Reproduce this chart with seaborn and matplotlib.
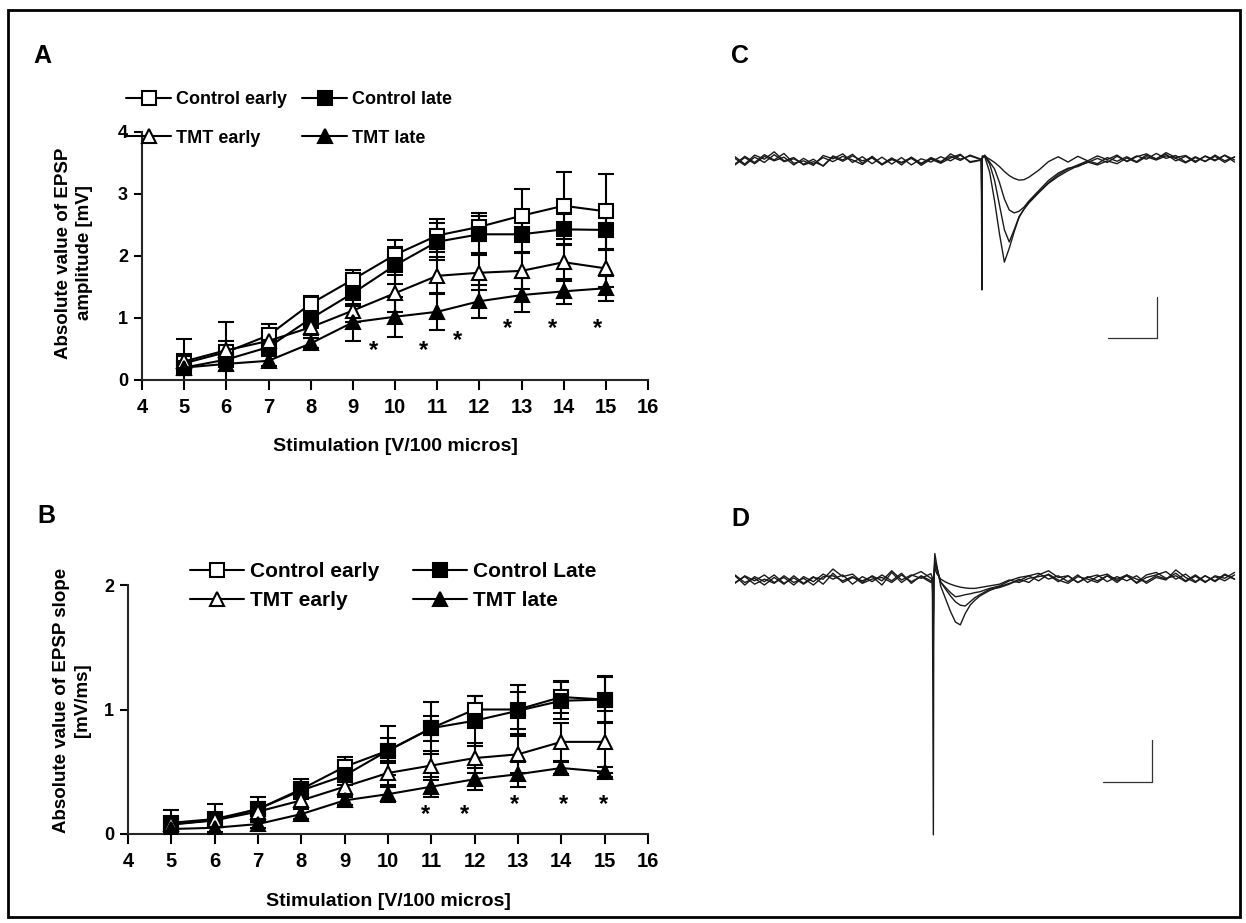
"""EPSP amplitude / slope input-output curves with example field potential traces."""

import matplotlib

matplotlib.use("Agg")

import matplotlib.pyplot as plt
import pandas as pd
import seaborn as sns
from matplotlib.lines import Line2D
from matplotlib.patches import Rectangle

# ---------------------------------------------------------------- data
stimulation = [5, 6, 7, 8, 9, 10, 11, 12, 13, 14, 15]

amp_ctrl_early = [0.27, 0.45, 0.72, 1.23, 1.62, 2.02, 2.33, 2.47, 2.65, 2.81, 2.72]
amp_ctrl_early_err = [0.39, 0.48, 0.18, 0.13, 0.16, 0.24, 0.27, 0.23, 0.43, 0.54, 0.61]
amp_ctrl_late = [0.20, 0.33, 0.53, 0.99, 1.40, 1.85, 2.23, 2.35, 2.35, 2.43, 2.42]
amp_ctrl_late_err = [0.12, 0.12, 0.12, 0.15, 0.20, 0.30, 0.30, 0.30, 0.30, 0.25, 0.32]
amp_tmt_early = [0.30, 0.48, 0.63, 0.85, 1.12, 1.40, 1.68, 1.73, 1.76, 1.90, 1.80]
amp_tmt_early_err = [0.12, 0.15, 0.12, 0.12, 0.18, 0.30, 0.30, 0.28, 0.30, 0.30, 0.30]
amp_tmt_late = [0.20, 0.26, 0.31, 0.59, 0.93, 1.02, 1.10, 1.27, 1.37, 1.43, 1.48]
amp_tmt_late_err = [0.08, 0.12, 0.08, 0.08, 0.30, 0.32, 0.30, 0.27, 0.27, 0.20, 0.20]

slope_ctrl_early = [0.09, 0.12, 0.20, 0.36, 0.54, 0.67, 0.85, 1.00, 1.00, 1.10, 1.08]
slope_ctrl_early_err = [0.10, 0.12, 0.10, 0.08, 0.08, 0.20, 0.21, 0.11, 0.20, 0.13, 0.19]
slope_ctrl_late = [0.075, 0.11, 0.20, 0.35, 0.47, 0.67, 0.85, 0.91, 0.99, 1.07, 1.08]
slope_ctrl_late_err = [0.05, 0.05, 0.05, 0.06, 0.08, 0.10, 0.10, 0.20, 0.15, 0.15, 0.18]
slope_tmt_early = [0.08, 0.11, 0.18, 0.27, 0.38, 0.49, 0.55, 0.61, 0.64, 0.74, 0.74]
slope_tmt_early_err = [0.05, 0.05, 0.06, 0.06, 0.08, 0.10, 0.12, 0.12, 0.15, 0.15, 0.25]
slope_tmt_late = [0.04, 0.05, 0.08, 0.16, 0.27, 0.32, 0.38, 0.44, 0.48, 0.53, 0.50]
slope_tmt_late_err = [0.03, 0.03, 0.03, 0.04, 0.04, 0.06, 0.08, 0.09, 0.10, 0.05, 0.04]

# significance markers (x, y in data units)
amp_star_x = [9.48, 10.67, 11.48, 12.67, 13.74, 14.81]
amp_star_y = [0.48, 0.48, 0.64, 0.83, 0.83, 0.83]
slope_star_x = [10.86, 11.77, 12.93, 14.06, 14.97]
slope_star_y = [0.16, 0.16, 0.24, 0.24, 0.24]

# example traces, time in ms, voltage in mV
trace_c_time = (
    [0, 2, 4, 6, 8, 10, 12, 14, 16, 18, 20, 22, 24, 26, 28, 30, 32, 34, 36, 38, 40, 42, 44, 46, 48]
    + [50, 50.3, 50.4, 50.5, 51, 52, 53, 54, 55, 56, 57, 58, 59, 60]
    + [62, 64, 66, 68, 70, 72, 74, 76, 78, 80, 82, 84, 86, 88, 90, 92, 94, 96, 98, 100, 102]
)
trace_c1 = (
    [0.08, -0.10, 0.12, 0.02, 0.20, -0.02, 0.06, -0.12, -0.04, -0.14, 0.10, 0.00, 0.14,
     -0.08, 0.09, -0.10, 0.05, -0.12, 0.07, -0.08, 0.04, -0.06, 0.15, 0.02, 0.10]
    + [0.02, 0.03, -3.17, 0.10, 0.08, -0.30, -1.00, -1.80, -2.49, -2.15, -1.75, -1.40, -1.20, -1.05]
    + [-0.80, -0.57, -0.40, -0.26, -0.14, -0.06, 0.04, -0.06, 0.09, -0.03, 0.10, 0.02, 0.16,
       0.04, 0.11, -0.05, 0.08, -0.04, 0.12, -0.02, 0.07]
)
trace_c2 = (
    [-0.10, 0.09, -0.06, 0.13, 0.00, 0.16, -0.08, -0.02, -0.13, 0.11, 0.03, 0.15, -0.06,
     0.08, -0.09, 0.07, -0.10, 0.06, -0.12, 0.03, -0.05, 0.08, -0.02, 0.12, -0.04]
    + [0.00, 0.01, -1.45, 0.08, 0.10, -0.10, -0.50, -1.10, -1.70, -2.00, -1.70, -1.38, -1.20, -1.02]
    + [-0.78, -0.55, -0.36, -0.22, -0.12, -0.02, -0.09, 0.06, -0.03, 0.08, -0.04, 0.12, 0.03,
       0.14, -0.02, 0.09, -0.06, 0.10, 0.00, 0.11, -0.05]
)
trace_c3 = (
    [0.04, -0.13, 0.07, -0.06, 0.13, -0.04, 0.03, -0.10, 0.02, -0.15, 0.08, -0.03, 0.10,
     -0.02, 0.05, -0.11, 0.01, -0.07, 0.04, -0.10, 0.06, -0.04, 0.09, -0.01, 0.12]
    + [0.03, 0.02, -1.20, 0.06, 0.12, -0.05, -0.22, -0.55, -0.95, -1.22, -1.29, -1.25, -1.15, -1.00]
    + [-0.75, -0.50, -0.32, -0.20, -0.16, -0.05, -0.12, -0.02, -0.09, 0.05, -0.06, 0.08, 0.00,
       0.10, 0.04, -0.07, 0.06, -0.03, 0.09, -0.06, 0.08]
)
trace_c4 = (
    [-0.12, 0.06, -0.09, 0.09, -0.02, 0.07, -0.12, 0.04, -0.10, 0.06, -0.04, 0.09, 0.00,
     -0.11, 0.07, -0.12, 0.04, -0.06, 0.06, -0.13, 0.02, -0.08, 0.05, 0.14, -0.06]
    + [-0.01, 0.00, -1.00, 0.05, 0.09, 0.02, -0.06, -0.16, -0.28, -0.38, -0.45, -0.49, -0.48, -0.42]
    + [-0.25, -0.04, 0.08, -0.05, 0.09, -0.02, 0.10, 0.01, 0.12, -0.04, 0.08, 0.15, 0.02,
       0.18, 0.06, 0.11, -0.03, 0.09, -0.02, 0.12, 0.00]
)

trace_d_time = (
    [0, 2, 4, 6, 8, 10, 12, 14, 16, 18, 20, 22, 24, 26, 28, 30, 32, 34, 36, 38, 40]
    + [40.3, 40.5, 40.6, 40.8, 41.2, 42, 43, 44, 45, 46, 47, 48, 49, 50, 52]
    + [54, 56, 58, 60, 62, 64, 66, 68, 70, 72, 74, 76, 78, 80, 82, 84, 86, 88, 90, 92, 94,
       96, 98, 100, 102]
)
trace_d1 = (
    [0.10, -0.12, 0.08, -0.04, 0.12, -0.08, 0.05, -0.10, 0.06, 0.02, 0.26, 0.08, 0.14,
     -0.06, 0.10, -0.02, 0.22, 0.00, 0.12, 0.04, 0.15]
    + [0.05, -6.07, 0.10, 0.63, 0.35, -0.15, -0.45, -0.75, -1.00, -1.07, -0.80, -0.60, -0.48, -0.38, -0.25]
    + [-0.16, -0.08, -0.02, 0.10, 0.16, 0.02, 0.10, -0.04, 0.12, -0.06, 0.08, 0.14, -0.02,
       0.10, -0.06, 0.12, 0.18, 0.04, 0.10, -0.04, 0.09, -0.06, 0.10, 0.04, 0.18]
)
trace_d2 = (
    [-0.08, 0.10, -0.02, 0.12, -0.06, 0.06, -0.12, 0.08, -0.04, 0.14, 0.02, 0.12, -0.10,
     0.08, -0.04, 0.12, -0.02, 0.16, -0.08, 0.10, -0.02]
    + [0.02, -1.50, 0.05, 0.45, 0.30, -0.05, -0.22, -0.38, -0.52, -0.60, -0.62, -0.52, -0.42, -0.35, -0.22]
    + [-0.18, -0.10, 0.02, -0.06, 0.12, 0.22, 0.06, 0.10, -0.06, 0.08, -0.02, 0.10, 0.02,
       0.12, -0.08, 0.06, 0.12, 0.20, 0.02, 0.14, -0.04, 0.10, -0.04, 0.12, 0.02]
)
trace_d3 = (
    [0.12, -0.06, 0.04, -0.12, 0.06, -0.10, 0.10, -0.08, 0.08, -0.10, 0.16, -0.06, 0.06,
     -0.02, 0.08, -0.12, 0.18, -0.06, 0.10, 0.20, 0.04]
    + [0.04, -1.00, 0.03, 0.40, 0.25, -0.05, -0.18, -0.30, -0.40, -0.38, -0.35, -0.33, -0.30, -0.28, -0.20]
    + [-0.14, -0.02, 0.06, 0.10, -0.02, 0.14, 0.00, -0.08, 0.08, 0.02, -0.06, 0.10, -0.06,
       0.12, 0.02, -0.04, 0.10, 0.02, 0.16, -0.02, 0.12, -0.04, 0.08, -0.02, 0.12]
)
trace_d4 = (
    [-0.06, 0.08, -0.10, 0.02, -0.08, 0.10, -0.06, 0.04, -0.12, 0.08, 0.10, -0.02, 0.08,
     -0.08, 0.02, 0.06, -0.06, 0.12, -0.04, 0.08, -0.06]
    + [0.01, -0.80, 0.02, 0.30, 0.15, 0.02, -0.05, -0.10, -0.14, -0.17, -0.19, -0.20, -0.20, -0.18, -0.14]
    + [-0.10, 0.00, -0.06, 0.04, 0.08, 0.12, -0.04, 0.10, -0.06, 0.06, 0.12, -0.04, 0.08,
       -0.02, 0.10, -0.08, 0.06, 0.00, 0.24, 0.06, -0.06, 0.10, -0.02, 0.14, 0.02]
)

# scale bars: 10 ms x 1 mV
scalebar_ms = 10
scalebar_mv = 1

groups = ["Control early", "Control late", "TMT early", "TMT late"]
group_markers = {"Control early": "s", "Control late": "s", "TMT early": "^", "TMT late": "^"}
group_faces = {"Control early": "white", "Control late": "black", "TMT early": "white", "TMT late": "black"}

# ---------------------------------------------------------------- style
sns.set_theme(style="ticks")
plt.rcParams.update(
    {
        "font.family": ["Liberation Sans", "DejaVu Sans"],
        "font.weight": "bold",
        "axes.labelweight": "bold",
        "axes.linewidth": 1.5,
        "text.color": "black",
        "axes.labelcolor": "black",
        "xtick.color": "black",
        "ytick.color": "black",
    }
)

W, H = 1246, 923


def fig_box(left, top, right, bottom):
    """Pixel box (from top-left) to figure fraction rect."""
    return [left / W, 1 - bottom / H, (right - left) / W, (bottom - top) / H]


def long_frame(series, errors):
    rows = []
    for name, means, errs in zip(groups, series, errors):
        for x, m, e in zip(stimulation, means, errs):
            rows.append({"stim": x, "group": name, "value": m - e})
            rows.append({"stim": x, "group": name, "value": m + e})
    return pd.DataFrame(rows)


def draw_curves(ax, frame):
    for i, name in enumerate(groups):
        sns.lineplot(
            data=frame[frame["group"] == name],
            x="stim",
            y="value",
            errorbar=lambda v: (v.min(), v.max()),
            err_style="bars",
            err_kws={"capsize": 5.5, "capthick": 1.5, "elinewidth": 1.5, "zorder": 2},
            color="black",
            linewidth=1.5,
            marker=group_markers[name],
            markersize=10,
            markerfacecolor=group_faces[name],
            markeredgecolor="black",
            markeredgewidth=1.5,
            zorder=4 + i,
            ax=ax,
        )
    ax.set_xlim(4, 16)
    ax.set_xticks(range(4, 17))
    ax.set_xlabel("")
    ax.set_ylabel("")
    sns.despine(ax=ax)
    ax.tick_params(axis="x", direction="out", length=7, width=1.5, labelsize=14.5, pad=6)
    ax.tick_params(axis="y", direction="out", length=6, width=1.5, labelsize=13, pad=4)
    for lab in ax.get_xticklabels() + ax.get_yticklabels():
        lab.set_fontweight("bold")


def legend_handles():
    return [
        Line2D([], [], color="black", lw=1.5, marker=group_markers[g], markersize=10,
               markerfacecolor=group_faces[g], markeredgecolor="black", markeredgewidth=1.5)
        for g in groups
    ]


fig = plt.figure(figsize=(W / 100, H / 100), dpi=100)

# ---------------------------------------------------------------- panel A
ax_a = fig.add_axes(fig_box(142, 132, 648, 380))
draw_curves(
    ax_a,
    long_frame(
        [amp_ctrl_early, amp_ctrl_late, amp_tmt_early, amp_tmt_late],
        [amp_ctrl_early_err, amp_ctrl_late_err, amp_tmt_early_err, amp_tmt_late_err],
    ),
)
ax_a.set_ylim(0, 4)
ax_a.set_yticks([0, 1, 2, 3, 4])
for sx, sy in zip(amp_star_x, amp_star_y):
    ax_a.text(sx, sy, "*", ha="center", va="center", fontsize=17, fontweight="bold")

# ---------------------------------------------------------------- panel B
ax_b = fig.add_axes(fig_box(128, 585, 648, 834))
draw_curves(
    ax_b,
    long_frame(
        [slope_ctrl_early, slope_ctrl_late, slope_tmt_early, slope_tmt_late],
        [slope_ctrl_early_err, slope_ctrl_late_err, slope_tmt_early_err, slope_tmt_late_err],
    ),
)
ax_b.set_ylim(0, 2)
ax_b.set_yticks([0, 1, 2])
for sx, sy in zip(slope_star_x, slope_star_y):
    ax_b.text(sx, sy, "*", ha="center", va="center", fontsize=17, fontweight="bold")

# legends (order fills columns: CE, TE | CL, TL)
handles = legend_handles()
order = [0, 2, 1, 3]
fig.legend(
    [handles[i] for i in order],
    ["Control early", "TMT early", "Control late", "TMT late"],
    loc="upper left",
    bbox_to_anchor=(126 / W, 1 - 91 / H),
    ncol=2,
    frameon=False,
    handlelength=2.5,
    handletextpad=0.25,
    columnspacing=0.85,
    labelspacing=1.2,
    borderaxespad=0,
    borderpad=0,
    prop={"weight": "bold", "size": 13},
)
fig.legend(
    [handles[i] for i in order],
    ["Control early", "TMT early", "Control Late", "TMT late"],
    loc="upper left",
    bbox_to_anchor=(190 / W, 1 - 562 / H),
    ncol=2,
    frameon=False,
    handlelength=2.6,
    handletextpad=0.3,
    columnspacing=1.6,
    labelspacing=0.5,
    borderaxespad=0,
    borderpad=0,
    prop={"weight": "bold", "size": 15},
)

# axis labels
fig.text(74 / W, 1 - 253 / H, "Absolute value of EPSP\namplitude [mV]", rotation=90,
         ha="center", va="center", multialignment="center", fontsize=13.5,
         fontweight="bold", linespacing=1.3)
fig.text(72 / W, 1 - 700 / H, "Absolute value of EPSP slope\n[mV/ms]", rotation=90,
         ha="center", va="center", multialignment="center", fontsize=13.5,
         fontweight="bold", linespacing=1.3)
fig.text(395 / W, 1 - 447 / H, "Stimulation [V/100 micros]", ha="center", va="center",
         fontsize=14, fontweight="bold")
fig.text(388 / W, 1 - 902 / H, "Stimulation [V/100 micros]", ha="center", va="center",
         fontsize=14, fontweight="bold")

# ---------------------------------------------------------------- panels C, D (traces)
ax_c = fig.add_axes(fig_box(735, 130, 1238, 350))
for tr in [trace_c4, trace_c3, trace_c2, trace_c1]:
    sns.lineplot(x=trace_c_time, y=tr, estimator=None, sort=False, color="#1a1a1a",
                 linewidth=1.0, ax=ax_c)
ax_c.plot([86.1 - scalebar_ms, 86.1, 86.1], [-4.34, -4.34, -4.34 + scalebar_mv],
          color="#333333", lw=0.9)
ax_c.set_xlim(0, 102.7)
ax_c.set_ylim(-4.634, 0.732)
ax_c.axis("off")

ax_d = fig.add_axes(fig_box(735, 540, 1238, 850))
for tr in [trace_d4, trace_d3, trace_d2, trace_d1]:
    sns.lineplot(x=trace_d_time, y=tr, estimator=None, sort=False, color="#1a1a1a",
                 linewidth=1.0, ax=ax_d)
ax_d.plot([85.1 - scalebar_ms, 85.1, 85.1], [-4.81, -4.81, -4.81 + scalebar_mv],
          color="#333333", lw=0.9)
ax_d.set_xlim(0, 102.7)
ax_d.set_ylim(-6.43, 0.952)
ax_d.axis("off")

# ---------------------------------------------------------------- panel letters, frame
for letter, (px, py) in {"A": (33, 44), "B": (37, 504), "C": (731, 44), "D": (731, 507)}.items():
    fig.text(px / W, 1 - py / H, letter, ha="left", va="top", fontsize=18, fontweight="bold")

fig.add_artist(
    Rectangle((8 / W, 6 / H), (1240 - 8) / W, (917 - 10) / H, transform=fig.transFigure,
              fill=False, lw=2, ec="black")
)

fig.savefig("out.png", dpi=100)
plt.close(fig)
